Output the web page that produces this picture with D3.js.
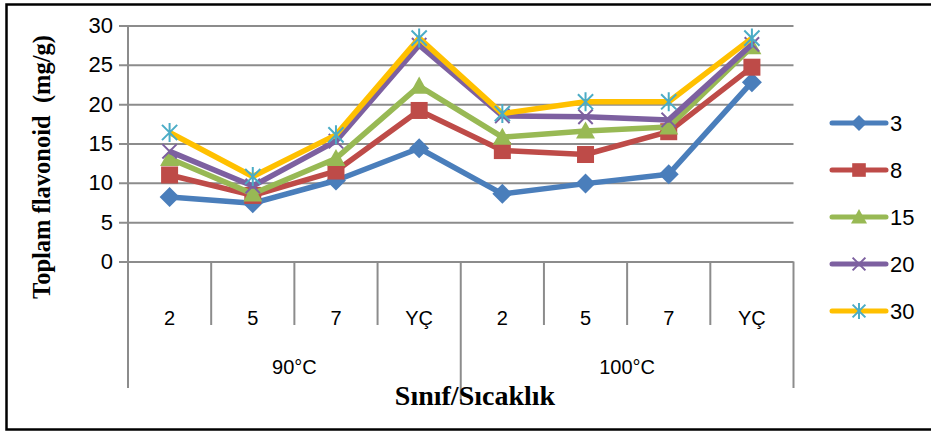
<!DOCTYPE html>
<html>
<head>
<meta charset="utf-8">
<script src="https://cdn.jsdelivr.net/npm/d3@7"></script>
<style>
  html, body { margin: 0; padding: 0; background: #fff; }
  svg { display: block; }
</style>
</head>
<body>
<svg id="chart" width="931" height="432"></svg>
<script>
// Sınıf (class) per category, grouped by temperature
const categories = ["2", "5", "7", "YÇ", "2", "5", "7", "YÇ"];
const groups = ["90°C", "100°C"];
const seriesNames = ["3", "8", "15", "20", "30"];

// Toplam flavonoid (mg/g) per series
const values3  = [8.2, 7.4, 10.3, 14.4, 8.6, 9.9, 11.1, 22.8];
const values8  = [11.0, 8.4, 11.5, 19.2, 14.1, 13.6, 16.5, 24.7];
const values15 = [13.1, 8.6, 13.1, 22.3, 15.8, 16.6, 17.1, 27.3];
const values20 = [14.0, 9.6, 15.3, 27.5, 18.5, 18.4, 18.0, 27.6];
const values30 = [16.4, 10.8, 16.1, 28.4, 18.8, 20.3, 20.3, 28.4];

const yTicks = [0, 5, 10, 15, 20, 25, 30];

const seriesValues = [values3, values8, values15, values20, values30];
const lineColors   = ["#4A7EBB", "#BE4B48", "#98B954", "#7D60A0", "#FFC000"];
const markerColors = ["#4A7EBB", "#BE4B48", "#98B954", "#7D60A0", "#4BACC6"];
const markerTypes  = ["diamond", "square", "triangle", "x", "star"];

const svg = d3.select("#chart");
const gridColor = "#8c8c8c";

// outer frame
svg.append("rect")
  .attr("x", 6.5).attr("y", 4.5)
  .attr("width", 960).attr("height", 425)
  .attr("fill", "none").attr("stroke", "#000").attr("stroke-width", 2.5);

const x = d3.scaleBand().domain(d3.range(categories.length)).range([128, 793.5]);
const y = d3.scaleLinear().domain([0, 30]).range([261.5, 25.5]);

// horizontal gridlines with left tick stubs
const yAxis = d3.axisLeft(y).tickValues(yTicks).tickSize(-(793.5 - 119)).tickPadding(8).tickFormat(d3.format("d"));
const gy = svg.append("g").attr("transform", "translate(119,0)").call(yAxis);
gy.select(".domain").remove();
gy.selectAll(".tick line").attr("x1", 0).attr("x2", 793.5 - 119)
  .attr("stroke", gridColor).attr("stroke-width", 2);
gy.selectAll(".tick text")
  .attr("font-family", "'Liberation Sans', Arial, sans-serif")
  .attr("font-size", 22).attr("fill", "#000").attr("x", -6);

// vertical axis line
svg.append("line")
  .attr("x1", 128).attr("x2", 128).attr("y1", y(30)).attr("y2", y(0))
  .attr("stroke", gridColor).attr("stroke-width", 2);

// category axis: labels and separators
const gx = svg.append("g").attr("transform", `translate(0,${y(0)})`)
  .call(d3.axisBottom(x).tickSize(0).tickPadding(0).tickFormat(i => categories[i]));
gx.select(".domain").remove();
gx.selectAll(".tick text")
  .attr("y", 49)
  .attr("font-family", "'Liberation Sans', Arial, sans-serif")
  .attr("font-size", 20).attr("fill", "#000");

const bounds = d3.range(categories.length + 1).map(i => i < categories.length ? x(i) : x.range()[1]);
svg.append("g").selectAll("line").data(bounds).join("line")
  .attr("x1", d => d).attr("x2", d => d)
  .attr("y1", y(0))
  .attr("y2", (d, i) => i === 4 ? 401 : (i === 0 || i === categories.length) ? 388 : 325)
  .attr("stroke", gridColor).attr("stroke-width", 2);

// group labels
const perGroup = categories.length / groups.length;
svg.append("g").selectAll("text").data(groups).join("text")
  .attr("x", (d, i) => (x(i * perGroup) + (i === groups.length - 1 ? x.range()[1] : x((i + 1) * perGroup))) / 2)
  .attr("y", 374)
  .attr("text-anchor", "middle")
  .attr("font-family", "'Liberation Sans', Arial, sans-serif")
  .attr("font-size", 20)
  .text(d => d);

// axis titles
svg.append("text")
  .attr("x", 475).attr("y", 405)
  .attr("text-anchor", "middle")
  .attr("font-family", "'Liberation Serif', 'Times New Roman', serif")
  .attr("font-weight", "bold").attr("font-size", 28)
  .text("Sınıf/Sıcaklık");

svg.append("text")
  .attr("transform", "translate(50,167) rotate(-90)")
  .attr("text-anchor", "middle")
  .attr("font-family", "'Liberation Serif', 'Times New Roman', serif")
  .attr("font-weight", "bold").attr("font-size", 24.5)
  .attr("xml:space", "preserve")
  .text("Toplam flavonoid  (mg/g)");

// marker drawing
function drawMarker(g, type, color, size) {
  const s = size / 2;
  if (type === "diamond") {
    g.append("path").attr("d", `M0,${-s}L${s},0L0,${s}L${-s},0Z`).attr("fill", color);
  } else if (type === "square") {
    const q = s * 0.85;
    g.append("rect").attr("x", -q).attr("y", -q).attr("width", 2 * q).attr("height", 2 * q).attr("fill", color);
  } else if (type === "triangle") {
    g.append("path").attr("d", `M0,${-s}L${s},${s * 0.8}L${-s},${s * 0.8}Z`).attr("fill", color);
  } else if (type === "x") {
    const q = s * 0.8;
    g.append("path").attr("d", `M${-q},${-q}L${q},${q}M${-q},${q}L${q},${-q}`)
      .attr("stroke", color).attr("stroke-width", 2);
  } else if (type === "star") {
    const q = s * 0.8;
    g.append("path").attr("d", `M0,${-s}L0,${s}M${-q},${-q}L${q},${q}M${-q},${q}L${q},${-q}`)
      .attr("stroke", color).attr("stroke-width", 2);
  }
}

const line = d3.line().x((d, i) => x(i) + x.bandwidth() / 2).y(d => y(d));
const markerSizes = [20, 20, 19, 18, 19];

seriesValues.forEach((vals, si) => {
  const g = svg.append("g");
  g.append("path").datum(vals).attr("d", line)
    .attr("fill", "none").attr("stroke", lineColors[si])
    .attr("stroke-width", 5.5).attr("stroke-linejoin", "round");
  vals.forEach((v, i) => {
    const m = g.append("g").attr("transform", `translate(${x(i) + x.bandwidth() / 2},${y(v)})`);
    drawMarker(m, markerTypes[si], markerColors[si], markerSizes[si]);
  });
});

// legend
const legend = svg.append("g");
seriesNames.forEach((name, si) => {
  const ly = 123 + si * 47;
  const row = legend.append("g");
  row.append("line").attr("x1", 832).attr("x2", 886).attr("y1", ly).attr("y2", ly)
    .attr("stroke", lineColors[si]).attr("stroke-width", 5).attr("stroke-linecap", "round");
  drawMarker(row.append("g").attr("transform", `translate(859,${ly})`), markerTypes[si], markerColors[si], 16);
  row.append("text").attr("x", 890).attr("y", ly + 8)
    .attr("font-family", "'Liberation Sans', Arial, sans-serif")
    .attr("font-size", 22).text(name);
});
</script>
</body>
</html>
